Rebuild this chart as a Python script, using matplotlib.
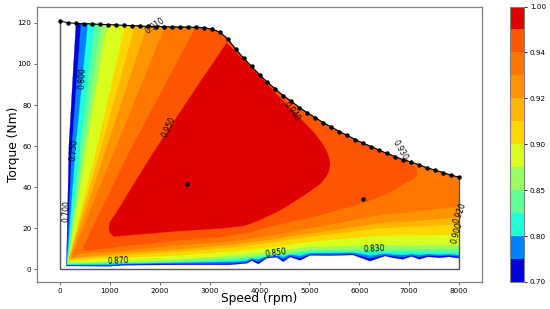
import matplotlib
matplotlib.use('Agg')
import matplotlib.pyplot as plt
from matplotlib.colors import BoundaryNorm, ListedColormap
from matplotlib.cm import ScalarMappable
import numpy as np

# Torque envelope (rpm, Nm)
env_speed = [0, 160, 320, 480, 640, 800, 960, 1120, 1280, 1440, 1600, 1760, 1920, 2080, 2240, 2400, 2560,
             2720, 2880, 3040, 3200, 3360, 3520, 3680, 3840, 4000, 4160, 4320, 4480, 4640, 4800, 4960, 5120,
             5280, 5440, 5600, 5760, 5920, 6080, 6240, 6400, 6560, 6720, 6880, 7040, 7200, 7360, 7520, 7680,
             7840, 8000]
env_torque = [120.9, 120.1, 119.8, 119.6, 119.5, 119.3, 119.2, 119.0, 118.8, 118.7, 118.5, 118.3, 118.2, 118.2,
              118.0, 118.0, 118.0, 117.9, 117.7, 117.0, 115.6, 112.3, 107.3, 102.9, 98.8, 94.8, 91.0, 87.8,
              84.5, 81.8, 78.8, 76.2, 73.8, 71.4, 69.3, 67.1, 65.2, 63.2, 61.4, 59.8, 58.0, 56.4, 54.9, 53.3,
              52.2, 50.9, 49.4, 48.3, 47.1, 45.8, 44.9]

# Efficiency levels of the map
levels = [0.70, 0.75, 0.80, 0.83, 0.85, 0.87, 0.90, 0.91, 0.92, 0.93, 0.94, 0.95, 1.00]
cbar_ticks = [0.70, 0.80, 0.85, 0.90, 0.92, 0.94, 1.00]

# Contour outlines, one value per level from 0.70 to 0.93
top_speed = [321, 421, 561, 702, 822, 942, 1303, 1504, 1744, 2105]
mid_speed = [180, 241, 321, 411, 481, 541, 755, 842, 956, 1143]  # at 60.7 Nm
corner_speed = [130, 134, 140, 146, 154, 160, 170, 180, 200, 247]
corner_torque = [1.6, 2.0, 2.2, 2.6, 2.9, 3.3, 4.0, 4.8, 5.5, 7.0]

# Low edge of the wavy levels
wave_speed = [1000, 1300, 2400, 3400, 3743, 3843, 3977, 4144, 4344, 4478, 4612, 4812, 5013, 5414, 5875, 6215,
              6516, 6700, 6877, 7052, 7198, 7378, 7619, 7800, 8000]
low_70 = [1.5, 2.0, 2.2, 2.2, 2.9, 4.2, 2.6, 5.4, 5.9, 3.7, 6.0, 4.4, 6.8, 6.7, 7.0, 4.0, 6.5, 5.5, 4.9, 6.3,
          4.9, 6.1, 5.6, 6.1, 5.4]
low_75 = [1.9, 2.4, 2.7, 2.8, 3.4, 4.8, 3.6, 5.9, 6.4, 4.7, 6.6, 5.4, 7.3, 7.2, 7.5, 5.3, 7.0, 6.3, 5.9, 6.8,
          6.0, 6.8, 6.4, 6.8, 6.1]
low_80 = [2.4, 2.8, 3.3, 3.7, 4.2, 5.4, 4.8, 6.5, 7.0, 6.0, 7.3, 6.6, 7.9, 8.0, 8.2, 6.8, 7.7, 7.3, 7.0, 7.5,
          7.0, 7.5, 7.2, 7.4, 7.0]

# Low edge of the smoother levels
low_speed = [600, 1203, 2406, 3408, 4311, 5013, 6416, 8000]
low_83 = [2.9, 3.1, 3.6, 4.5, 6.6, 8.6, 8.6, 8.3]
low_85 = [3.1, 3.3, 4.1, 5.3, 7.3, 9.4, 9.9, 9.9]
low_87 = [3.5, 3.8, 5.0, 6.5, 8.8, 11.0, 11.9, 11.9]
low_90 = [4.8, 5.5, 6.8, 8.6, 11.0, 13.5, 16.4, 16.8]
low_91 = [5.8, 6.7, 8.6, 10.5, 13.3, 15.9, 20.0, 21.9]
low_92 = [6.4, 7.7, 9.8, 11.9, 14.8, 17.5, 22.4, 25.2]
low_93 = [8.0, 8.8, 11.8, 13.5, 16.8, 20.0, 26.5, 30.5]

# Inner regions
region_94_speed = [6951, 7078, 7152, 7152, 7078, 6977, 6817, 6650, 6316, 5975, 5614, 5313, 5013, 4311, 3810, 3108,
                   2406, 1203, 561, 490, 455, 1363]
region_94_torque = [53.7, 50.9, 48.0, 45.5, 43.8, 42.7, 40.5, 38.0, 34.5, 31.5, 29.3, 27.0, 25.2, 21.5, 18.0, 15.3,
                    14.2, 11.0, 9.1, 9.3, 10.2, 55.8]
region_95_speed = [3342, 3844, 4411, 5073, 5233, 5333, 5393, 5414, 5393, 5333, 5213, 5053, 4812, 4652, 4491, 4311,
                   4050, 3810, 3669, 3208, 2406, 1203, 1083, 1003, 983, 1003, 1103, 1845, 2707]
region_95_torque = [110.2, 98.0, 83.6, 67.1, 62.1, 58.2, 54.3, 51.4, 48.0, 45.0, 41.6, 38.7, 34.8, 32.3, 29.9, 27.5,
                    24.5, 22.1, 21.1, 19.9, 18.7, 16.2, 16.0, 17.7, 20.1, 23.1, 26.5, 55.8, 87.5]
top_speed_94 = 2607

# Operating points
point_speed = [2540, 6069]
point_torque = [41.3, 34.3]

# Contour labels
label_text = ['0.800', '0.750', '0.700', '0.910', '0.950', '0.940', '0.930', '0.920', '0.900', '0.870', '0.850', '0.830']
label_speed = [441, 281, 120, 1905, 2185, 4645, 6817, 8020, 7966, 1163, 4324, 6296]
label_torque = [93.3, 58, 28.4, 118.7, 69.5, 76.6, 57.9, 27.3, 18, 3.9, 8.1, 10]
label_angle = [88, 85, 88, 35, 65, -55, -60, 70, 75, 3, 8, 3]


def level_color(i):
    mid = (levels[i] + levels[i + 1]) / 2
    return plt.cm.jet((mid - levels[0]) / (levels[-1] - levels[0]))


def outline(i, low_x, low_y):
    # Left ray, envelope, then the low edge back to the corner
    env_x = np.array(env_speed)
    keep = env_x > top_speed[i]
    xs = [top_speed[i]] + list(env_x[keep]) + list(low_x[::-1]) + [corner_speed[i], mid_speed[i]]
    ys = [np.interp(top_speed[i], env_speed, env_torque)] + list(np.array(env_torque)[keep]) + list(low_y[::-1]) \
        + [corner_torque[i], 60.7]
    return xs, ys


fig = plt.figure(figsize=(5.5, 3.09), dpi=100)
ax = fig.add_axes([37 / 550, 27 / 309, 445 / 550, 275.5 / 309])

low_edges = [low_70, low_75, low_80, low_83, low_85, low_87, low_90, low_91, low_92, low_93]
for i, low in enumerate(low_edges):
    low_x = wave_speed if i < 3 else low_speed
    xs, ys = outline(i, low_x, low)
    ax.fill(xs, ys, color=level_color(i), lw=0.2, zorder=1 + i)

env_x = np.array(env_speed)
keep = (env_x >= top_speed_94) & (env_x <= region_94_speed[0])
xs = list(env_x[keep]) + region_94_speed
ys = list(np.array(env_torque)[keep]) + region_94_torque
ax.fill(xs, ys, color=level_color(10), lw=0.2, zorder=12)
ax.fill(region_95_speed, region_95_torque, color=level_color(11), lw=0.2, zorder=13)

# Map boundary
ax.plot([0, 0, 8000, 8000], [env_torque[0], 0, 0, env_torque[-1]], color='#555555', lw=1.0, zorder=14)
ax.plot(env_speed, env_torque, '-o', color='black', lw=0.8, ms=2.2, zorder=15)
ax.plot(point_speed, point_torque, 'o', color='black', ms=2.2, zorder=15)

for text, x, y, angle in zip(label_text, label_speed, label_torque, label_angle):
    ax.text(x, y, text, rotation=angle, fontsize=5.5, ha='center', va='center', zorder=16)

ax.set_xlim(-461, 8461)
ax.set_ylim(-6.2, 128)
ax.set_xticks([0, 1000, 2000, 3000, 4000, 5000, 6000, 7000, 8000])
ax.set_yticks([0, 20, 40, 60, 80, 100, 120])
ax.tick_params(labelsize=5.2, length=2, width=0.6, color='#444444', pad=2)
ax.set_xlabel('Speed (rpm)', fontsize=8.8, labelpad=-1)
ax.set_ylabel('Torque (Nm)', fontsize=8.8, labelpad=-2)
for spine in ax.spines.values():
    spine.set_color('#808080')
    spine.set_linewidth(0.9)

cax = fig.add_axes([510 / 550, 27 / 309, 14.3 / 550, 275.5 / 309])
colors = [level_color(i) for i in range(len(levels) - 1)]
mappable = ScalarMappable(norm=BoundaryNorm(levels, len(colors)), cmap=ListedColormap(colors))
cbar = fig.colorbar(mappable, cax=cax, ticks=cbar_ticks, spacing='uniform')
cbar.ax.set_yticklabels(['%.2f' % t for t in cbar_ticks])
cbar.ax.minorticks_off()
cbar.ax.tick_params(labelsize=5.2, length=2, width=0.6, pad=2)
cbar.outline.set_edgecolor('#808080')
cbar.outline.set_linewidth(0.8)

fig.savefig('out.png', dpi=100)
